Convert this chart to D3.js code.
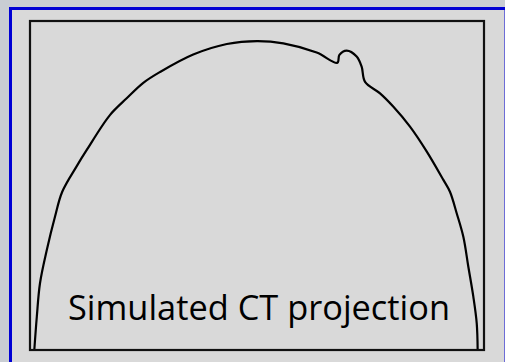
<!DOCTYPE html>
<html>
<head>
<meta charset="utf-8">
<script src="https://cdn.jsdelivr.net/npm/d3@7"></script>
<style>
  html, body { margin: 0; padding: 0; background: #c9cdd3; }
  svg { display: block; }
</style>
</head>
<body>
<div id="chart"></div>
<script>
  // detector position (-100..100) and projection value (0..100)
  var detector = [-98.1, -97.0, -95.6, -92.6, -89.0, -85.8, -79.4, -75.0, -64.8, -57.4,
                  -50.1, -42.7, -28.1, -13.3, 0, 11.6, 26.3, 35.4, 36.3, 39.5,
                  43.9, 46.1, 47.6, 54.2, 60.0, 67.4, 74.8, 82.1, 85.0, 88.0,
                  90.9, 93.1, 95.3, 96.8, 97.2];
  var projection = [0, 10.1, 20.3, 30.4, 40.5, 48.1, 55.9, 60.8, 71.4, 76.5,
                    81.2, 84.5, 89.8, 93.0, 93.9, 93.2, 90.4, 87.3, 89.7, 91.0,
                    89.2, 86.1, 81.5, 78.0, 74.0, 67.9, 60.3, 51.7, 48.1, 41.5,
                    34.4, 25.3, 16.2, 8.1, 0];
  var label = "Simulated CT projection";

  var width = 505,
      height = 362;

  var frame = { left: 30, top: 21, right: 484, bottom: 350 };

  var svg = d3.select("#chart").append("svg")
    .attr("width", width)
    .attr("height", height);

  // blue panel border, right and bottom edges fall outside the window
  svg.append("rect")
      .attr("x", 10.5)
      .attr("y", 8.5)
      .attr("width", 495.5)
      .attr("height", 370)
      .attr("fill", "#d9d9d9")
      .attr("stroke", "#0000d4")
      .attr("stroke-width", 3);

  var x = d3.scaleLinear()
      .domain([-100, 100])
      .range([frame.left, frame.right]);

  var y = d3.scaleLinear()
      .domain([0, 100])
      .range([frame.bottom, frame.bottom - 329]);

  var points = detector.map((d, i) => [d, projection[i]]);

  var line = d3.line()
      .x(d => x(d[0]))
      .y(d => y(d[1]))
      .curve(d3.curveCatmullRom.alpha(0.5));

  svg.append("path")
      .datum(points)
      .attr("d", line)
      .attr("fill", "none")
      .attr("stroke", "#000")
      .attr("stroke-width", 2.2)
      .attr("stroke-linejoin", "round");

  svg.append("rect")
      .attr("x", frame.left)
      .attr("y", frame.top)
      .attr("width", frame.right - frame.left)
      .attr("height", frame.bottom - frame.top)
      .attr("fill", "none")
      .attr("stroke", "#111")
      .attr("stroke-width", 2.2);

  svg.append("text")
      .attr("x", 68)
      .attr("y", 320)
      .attr("textLength", 382)
      .attr("lengthAdjust", "spacingAndGlyphs")
      .attr("font-family", "'Comic Sans MS', 'Open Sans', sans-serif")
      .attr("font-size", 34)
      .attr("fill", "#000")
      .text(label);
</script>
</body>
</html>
